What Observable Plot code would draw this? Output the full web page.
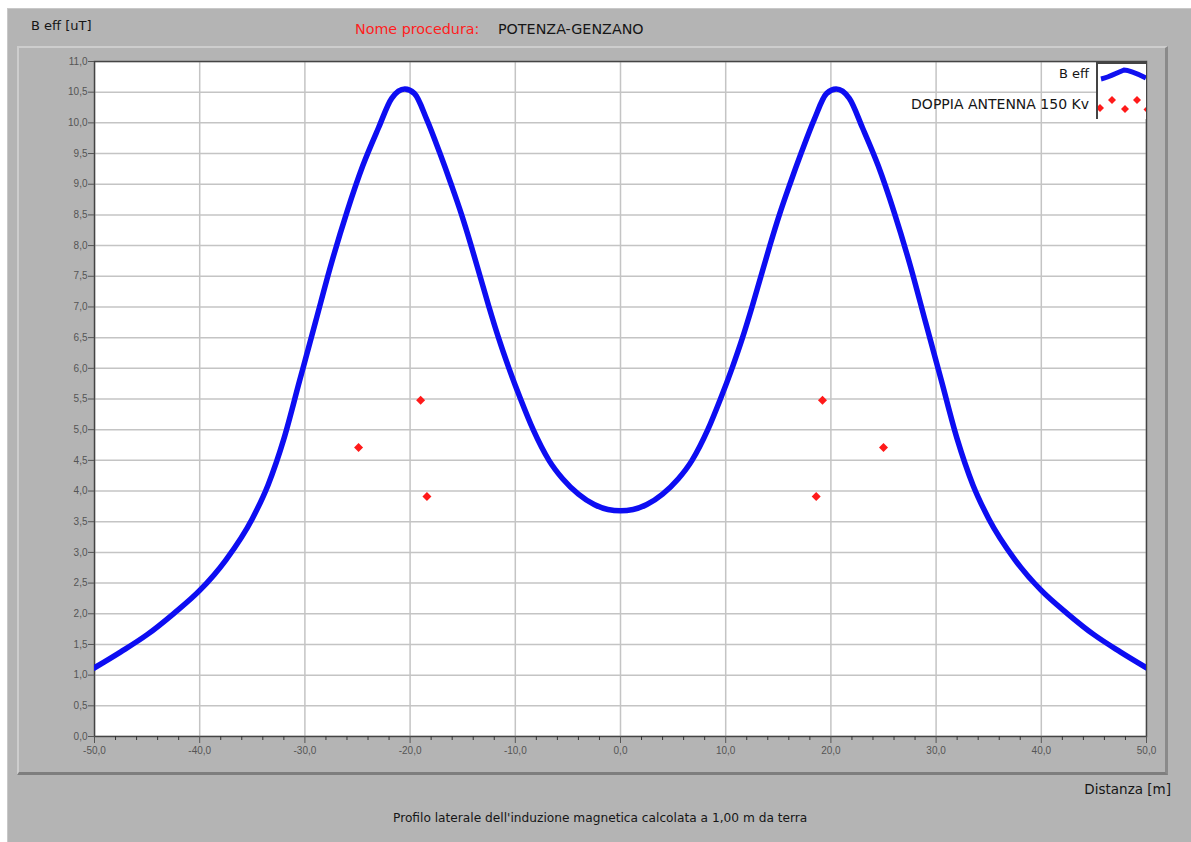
<!DOCTYPE html>
<html>
<head>
<meta charset="utf-8">
<script src="https://cdn.jsdelivr.net/npm/d3@7"></script>
<script src="https://cdn.jsdelivr.net/npm/@observablehq/plot@0.6"></script>
<style>
  html, body { margin: 0; padding: 0; background: #fff; }
  #page { position: relative; width: 1191px; height: 842px; overflow: hidden; font-family: "DejaVu Sans", Verdana, sans-serif; }
  #win { position: absolute; left: 7px; top: 8px; width: 1184px; height: 834px; background: #b4b4b4; border-top: 1px solid #c8c8c8; border-left: 1px solid #c8c8c8; }
  #panel { position: absolute; left: 17px; top: 46px; width: 1146px; height: 724px; border-top: 2px solid #cdcdcd; border-left: 2px solid #cdcdcd; border-bottom: 3px solid #7e7e7e; border-right: 3px solid #8a8a8a; background: #b4b4b4; }
  .t { position: absolute; white-space: nowrap; color: #161616; }
  #chart { position: absolute; left: 0; top: 0; }
  #legendBox { position: absolute; left: 1096px; top: 62px; width: 48px; height: 55px; background: #fff; border-top: 2px solid #444; border-left: 2px solid #444; }
</style>
</head>
<body>
<div id="page">
  <div id="win"></div>
  <div id="panel"></div>
  <div class="t" style="left:31px; top:18px; font-size:13px;">B eff [uT]</div>
  <div class="t" style="left:355px; top:21px; font-size:14.3px; color:#ff2020;">Nome procedura:</div>
  <div class="t" style="left:498px; top:21px; font-size:14.3px;">POTENZA-GENZANO</div>
  <div id="chart"></div>
  <div class="t" style="top:66px; font-size:13px; right:102px;">B eff</div>
  <div class="t" style="top:96px; font-size:14px; right:102px;">DOPPIA ANTENNA 150 Kv</div>
  <div id="legendBox">
    <svg width="48" height="55">
      <path d="M3,15 C12,13 18,9 26,6 C32,6 40,10 48,14" fill="none" stroke="#1010f0" stroke-width="5"/>
      <g fill="#ff1a1a">
        <path d="M2,40 l4,4 l-4,4 l-4,-4z"/>
        <path d="M14,32 l4,4 l-4,4 l-4,-4z"/>
        <path d="M27,41 l4,4 l-4,4 l-4,-4z"/>
        <path d="M39,32 l4,4 l-4,4 l-4,-4z"/>
        <path d="M48,43 l2.5,2.5 l-2.5,2.5 l-2.5,-2.5z"/>
      </g>
    </svg>
  </div>
  <div class="t" style="right:20px; top:781px; font-size:13.5px;">Distanza [m]</div>
  <div class="t" style="left:393px; top:811px; font-size:12.2px;">Profilo laterale dell'induzione magnetica calcolata a 1,00 m da terra</div>
</div>
<script>
// Lateral distance [m] and effective magnetic induction B eff [uT], read from the profile
const distX = [-50, -47.5, -45, -42.5, -40, -37.5, -35, -33.5, -32, -30.5, -29, -27.5, -26, -24.5, -23, -21.75, -20.5,
  -19.6, -18.4, -17.2, -16.1, -15.1, -14.2, -13.35, -12.5, -11.6, -10.6, -9.5, -8.3, -6.8, -5.5, -4, -2.5, -1.2, 0,
  1.2, 2.5, 4, 5.5, 6.8, 8.3, 9.5, 10.6, 11.6, 12.5, 13.35, 14.2, 15.1, 16.1, 17.2, 18.4, 19.6,
  20.5, 21.75, 23, 24.5, 26, 27.5, 29, 30.5, 32, 33.5, 35, 37.5, 40, 42.5, 45, 47.5, 50];
const bEff = [1.12, 1.38, 1.66, 2.0, 2.38, 2.88, 3.55, 4.1, 4.85, 5.8, 6.75, 7.7, 8.55, 9.3, 9.92, 10.4, 10.55,
  10.48, 10.05, 9.52, 9.0, 8.5, 8.0, 7.5, 7.0, 6.5, 6.0, 5.5, 5.0, 4.5, 4.2, 3.95, 3.78, 3.7, 3.68,
  3.7, 3.78, 3.95, 4.2, 4.5, 5.0, 5.5, 6.0, 6.5, 7.0, 7.5, 8.0, 8.5, 9.0, 9.52, 10.05, 10.48,
  10.55, 10.4, 9.92, 9.3, 8.55, 7.7, 6.75, 5.8, 4.85, 4.1, 3.55, 2.88, 2.38, 2.0, 1.66, 1.38, 1.12];

// Conductor positions (double circuit 150 kV)
const condX = [-24.9, -19.0, -18.4, 19.2, 25.0, 18.6];
const condY = [4.71, 5.48, 3.91, 5.48, 4.71, 3.91];

// Axis ticks
const yTicks = [0, 0.5, 1, 1.5, 2, 2.5, 3, 3.5, 4, 4.5, 5, 5.5, 6, 6.5, 7, 7.5, 8, 8.5, 9, 9.5, 10, 10.5, 11];
const xMajor = [-50, -40, -30, -20, -10, 0, 10, 20, 30, 40, 50];
const xMinor = [-48, -46, -44, -42, -38, -36, -34, -32, -28, -26, -24, -22, -18, -16, -14, -12, -8, -6, -4, -2, 2, 4, 6, 8, 12, 14, 16, 18, 22, 24, 26, 28, 32, 34, 36, 38, 42, 44, 46, 48];

const curveData = distX.map((x, i) => ({x, y: bEff[i]}));
const condData = condX.map((x, i) => ({x, y: condY[i]}));
const fmt = d => d.toFixed(1).replace(".", ",");

const chart = Plot.plot({
  width: 1191,
  height: 790,
  marginLeft: 94,
  marginRight: 45,
  marginTop: 61,
  marginBottom: 54,
  x: {domain: [-50, 50]},
  y: {domain: [0, 11]},
  style: {background: "transparent", fontFamily: "'Liberation Sans', Arial, sans-serif", fontSize: "10px", overflow: "visible"},
  marks: [
    Plot.frame({fill: "white", stroke: "none"}),
    Plot.gridX(xMajor, {stroke: "#c4c4c4", strokeOpacity: 1, strokeWidth: 1.5}),
    Plot.gridY(yTicks, {stroke: "#c4c4c4", strokeOpacity: 1, strokeWidth: 1.5}),
    Plot.frame({stroke: "#444", strokeWidth: 1.5}),
    Plot.axisY(yTicks, {tickSize: 6, tickPadding: 1, tickFormat: fmt, color: "#555", label: null, fontSize: 10}),
    Plot.axisX(xMajor, {tickSize: 7, tickPadding: 3, tickFormat: fmt, color: "#555", label: null, fontSize: 10}),
    Plot.axisX(xMinor, {tickSize: 4, tickFormat: () => "", color: "#333", label: null}),
    Plot.line(curveData, {x: "x", y: "y", stroke: "#0d0df2", strokeWidth: 5.5, curve: "monotone-x", clip: true}),
    Plot.dot(condData, {x: "x", y: "y", symbol: "square", rotate: 45, fill: "#ff1a1a", stroke: "none", r: 3.6})
  ]
});
document.getElementById("chart").appendChild(chart);
</script>
</body>
</html>
